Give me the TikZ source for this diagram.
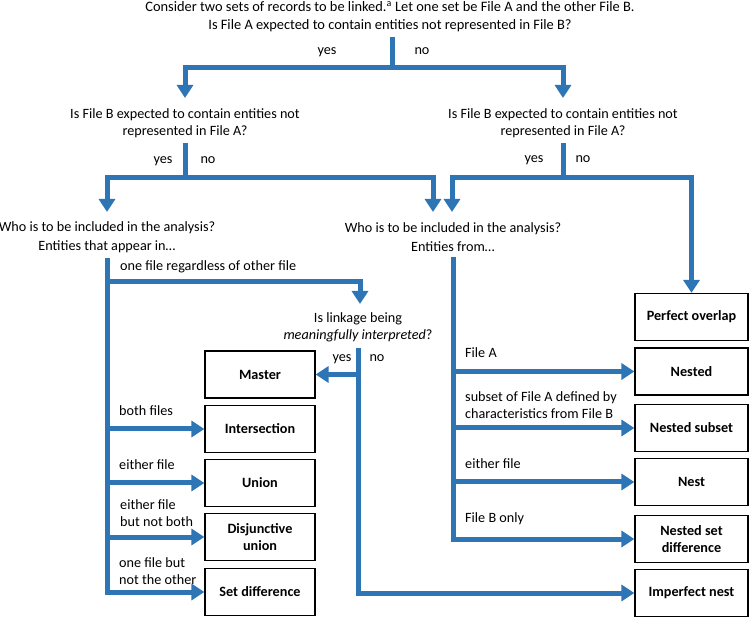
\documentclass[tikz,border=0pt]{standalone}
\usepackage{fontspec}
\setmainfont{Carlito}
\usetikzlibrary{arrows.meta}
\definecolor{flowblue}{RGB}{46,117,182}
\begin{document}
\begin{tikzpicture}[x=1pt,y=-1pt,
  every node/.style={font=\fontsize{14.2}{17.5}\selectfont},
  flow/.style={draw=flowblue, line width=5pt},
  arr/.style={flow, -{Triangle[width=16pt,length=13pt]}},
  qtext/.style={align=center, inner xsep=0pt, inner ysep=5pt},
  lab/.style={inner sep=0pt, text height=9pt, text depth=3pt},
  mlab/.style={inner sep=0pt, align=left, anchor=west, font=\fontsize{14.2}{17}\selectfont},
  resbox/.style={draw=black, line width=1.2pt, minimum height=47pt, align=center, inner sep=2pt, font=\fontsize{14.2}{17}\selectfont\bfseries},
  lbox/.style={resbox, minimum width=110pt},
  rbox/.style={resbox, minimum width=113pt}]
\useasboundingbox (0,0) rectangle (750,617);

% questions
\node[qtext, font=\fontsize{14.4}{17.5}\selectfont] (q1) at (390,16.5) {Consider two sets of records to be linked.\textsuperscript{a} Let one set be File A and the other File B.\\Is File A expected to contain entities not represented in File B?};
\node[qtext] (q2L) at (185,123) {Is File B expected to contain entities not\\represented in File A?};
\node[qtext] (q2R) at (563,123) {Is File B expected to contain entities not\\represented in File A?};
\node[qtext, font=\fontsize{14.2}{19}\selectfont] (q3L) at (107,237.5) {Who is to be included in the analysis?\\Entities that appear in\dots};
\node[qtext, font=\fontsize{14.2}{19}\selectfont] (q3R) at (453,237.5) {Who is to be included in the analysis?\\Entities from\dots};
\node[qtext] (q4) at (358,327.5) {Is linkage being\\\emph{meaningfully interpreted}?};

% result boxes
\node[lbox] (master) at (260,374.5) {Master};
\node[lbox] (inter) at (260,429) {Intersection};
\node[lbox] (union) at (260,483) {Union};
\node[lbox] (dunion) at (260,537) {Disjunctive\\union};
\node[lbox] (setdiff) at (260,592) {Set difference};
\node[rbox] (perfect) at (691.5,317) {Perfect overlap};
\node[rbox] (nested) at (691.5,371.5) {Nested};
\node[rbox] (nsubset) at (691.5,428) {Nested subset};
\node[rbox] (nest) at (691.5,482) {Nest};
\node[rbox] (nsd) at (691.5,539) {Nested set\\difference};
\node[rbox] (imperfect) at (691.5,593) {Imperfect nest};

% junctions and arrow tips
\coordinate (j1) at (392,68);
\coordinate (t2L) at (185,98);
\coordinate (t2R) at (563,98);
\coordinate (j2L) at (185,178);
\coordinate (j2R) at (563,178);
\coordinate (t3L) at (107,212);
\coordinate (t3M) at (433,212);
\coordinate (t3R) at (452,212);
\coordinate (j4) at (107,282);
\coordinate (t4) at (360,304);

% connectors
\draw[flow] (q1.south -| j1) -- (j1);
\draw[arr] (j1) -| (t2L);
\draw[arr] (j1) -| (t2R);
\draw[flow] (q2L.south) -- (j2L);
\draw[arr] (j2L) -| (t3L);
\draw[arr] (j2L) -| (t3M);
\draw[flow] (q2R.south) -- (j2R);
\draw[arr] (j2R) -| (t3R);
\draw[arr] (j2R) -| (perfect.north);

\draw[arr] (q3L.south) |- (setdiff.west);
\draw[arr] (q3L.south |- inter.west) -- (inter.west);
\draw[arr] (q3L.south |- union.west) -- (union.west);
\draw[arr] (q3L.south |- dunion.west) -- (dunion.west);
\draw[arr] (j4) -| (t4);

\draw[arr] (q4.south) |- (imperfect.west);
\draw[arr] (q4.south |- master.east) -- (master.east);

\draw[arr] (q3R.south) |- (nsd.west);
\draw[arr] (q3R.south |- nested.west) -- (nested.west);
\draw[arr] (q3R.south |- nsubset.west) -- (nsubset.west);
\draw[arr] (q3R.south |- nest.west) -- (nest.west);

% labels
\node[lab] (y1) at (327,52) {yes};
\node[lab] (n1) at (422,52) {no};
\node[lab] (y2L) at (163,161) {yes};
\node[lab] (n2L) at (208,161) {no};
\node[lab] (y2R) at (534,160) {yes};
\node[lab] (n2R) at (583,160) {no};
\node[lab] (y4) at (342,359) {yes};
\node[lab] (n4) at (377,359) {no};
\node[lab, anchor=west] (lone) at (120,268) {one file regardless of other file};
\node[lab, anchor=west] (lboth) at (119,413) {both files};
\node[lab, anchor=west] (leither) at (119,467) {either file};
\node[mlab] (lnotboth) at (120,513.5) {either file\\but not both};
\node[mlab] (lother) at (119,571.5) {one file but\\not the other};
\node[lab, anchor=west] (lfa) at (465,355) {File A};
\node[mlab] (lsub) at (465,405) {subset of File A defined by\\characteristics from File B};
\node[lab, anchor=west] (reither) at (465,465) {either file};
\node[lab, anchor=west] (lfb) at (465,519) {File B only};
\end{tikzpicture}
\end{document}
